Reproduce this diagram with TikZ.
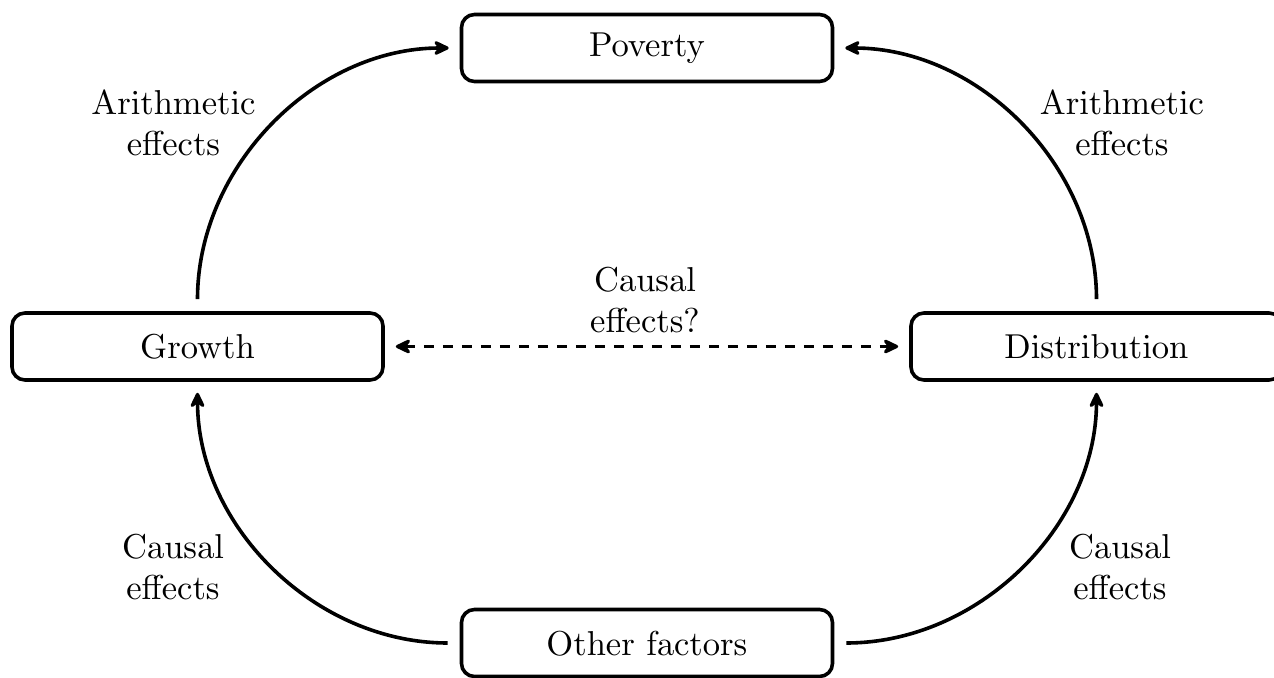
\documentclass[tikz,border=0pt]{standalone}
\usetikzlibrary{arrows.meta}
\font\lmbig=cmr10 at 17.28pt
\begin{document}
\begin{tikzpicture}[x=0.5pt,y=-0.5pt,
  font={\fontsize{17.28}{20.5}\selectfont\lmbig},
  box/.style={draw, line width=1.8pt, rounded corners=6.5pt, minimum width=185.5pt, minimum height=33.5pt, inner sep=0pt},
  conn/.style={line width=1.8pt, -{Stealth[round,length=10pt,width=9.5pt,inset=3.8pt]}, shorten >=5.5pt, shorten <=6pt},
  lbl/.style={align=center, inner sep=0pt}
]
\useasboundingbox (0,0) rectangle (1274,678);
\node[box] (pov) at (647,48) {Poverty};
\node[box] (gro) at (197.5,346.5) {Growth};
\node[box] (dis) at (1096.5,346.5) {Distribution};
\node[box] (oth) at (647,643) {Other factors};

\draw[conn] (gro.north) to[out=90,in=180] (pov.west);
\draw[conn] (dis.north) to[out=90,in=0] (pov.east);
\draw[conn] (oth.west) to[out=180,in=-90] (gro.south);
\draw[conn] (oth.east) to[out=0,in=-90] (dis.south);
\draw[conn, {Stealth[round,length=10pt,width=9.5pt,inset=3.8pt]}-{Stealth[round,length=10pt,width=9.5pt,inset=3.8pt]}, dash pattern=on 5pt off 4.5pt, shorten <=5.5pt] (gro.east) -- (dis.west);

\node[lbl] (l1) at (173.5,123) {Arithmetic\\effects};
\node[lbl] (l2) at (1122,123) {Arithmetic\\effects};
\node[lbl] (l3) at (645,300) {Causal\\effects?};
\node[lbl] (l4) at (173,567) {Causal\\effects};
\node[lbl] (l5) at (1120,567) {Causal\\effects};
\end{tikzpicture}
\end{document}
